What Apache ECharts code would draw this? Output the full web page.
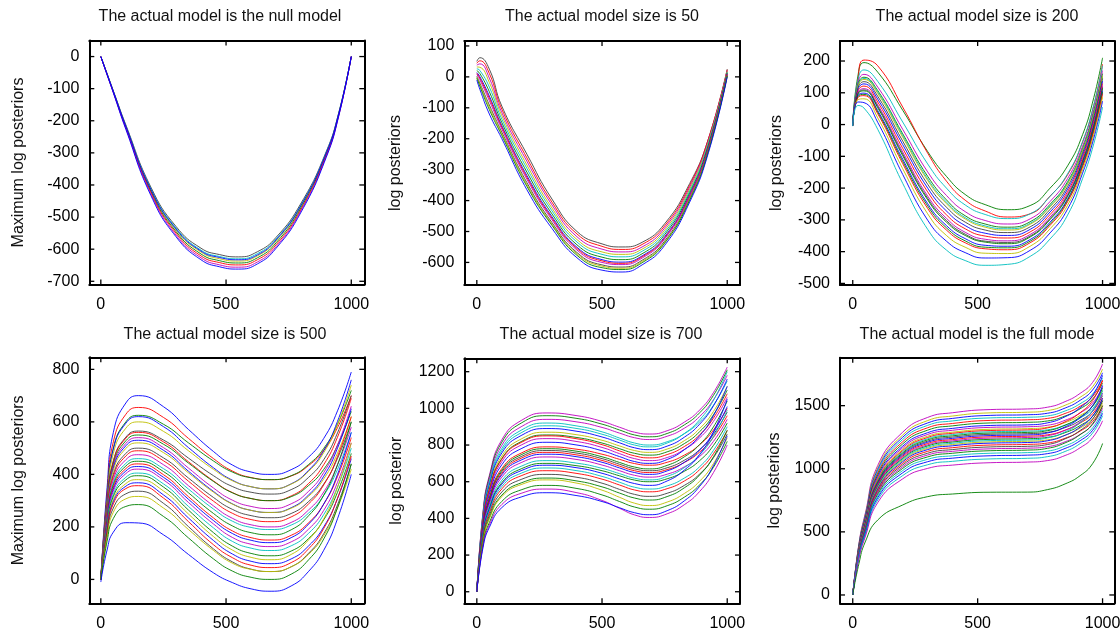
<!DOCTYPE html>
<html><head><meta charset="utf-8">
<script src="https://cdn.jsdelivr.net/npm/echarts@6/dist/echarts.min.js"></script>
<style>html,body{margin:0;padding:0;background:#fff}#c{width:1120px;height:635px}</style>
</head><body><div id="c"></div>
<script>
// ---------- DATA ----------
const xTicks = [0, 500, 1000];
const titles = ['The actual model is the null model', 'The actual model size is 50', 'The actual model size is 200',
  'The actual model size is 500', 'The actual model size is 700', 'The actual model is the full mode'];
const yNames = ['Maximum log posteriors', 'log posteriors', 'log posteriors',
  'Maximum log posteriors', 'log posterior', 'log posteriors'];

const yTicksNull = [0, -100, -200, -300, -400, -500, -600, -700];
const yTicks50 = [100, 0, -100, -200, -300, -400, -500, -600];
const yTicks200 = [200, 100, 0, -100, -200, -300, -400, -500];
const yTicks500 = [0, 200, 400, 600, 800];
const yTicks700 = [0, 200, 400, 600, 800, 1000, 1200];
const yTicksFull = [0, 500, 1000, 1500];

// x positions at which each panel's curves were read
const xsNull = [0, 25, 50, 100, 200, 300, 400, 475, 550, 625, 700, 800, 900, 950, 1000];
const xs50   = [0, 12, 50, 100, 200, 300, 400, 500, 580, 660, 750, 850, 925, 1000];
const xs200  = [0, 20, 45, 100, 200, 300, 375, 450, 530, 620, 710, 790, 860, 920, 965, 1000];
const xs500  = [0, 25, 50, 100, 150, 250, 350, 450, 525, 600, 680, 760, 830, 890, 945, 1000];
const xs700  = [0, 25, 50, 100, 180, 280, 400, 500, 570, 630, 690, 760, 830, 890, 945, 1000];
const xsFull = [0, 25, 50, 100, 200, 300, 400, 550, 700, 780, 850, 910, 960, 1000];

const nullModel = [
  [0,-53,-107,-213,-407,-529,-597,-617,-624,-608,-563,-456,-296,-175,0],
  [0,-54,-108,-216,-412,-534,-603,-623,-630,-614,-568,-461,-299,-176,0],
  [0,-54,-109,-218,-416,-540,-609,-630,-637,-621,-574,-465,-302,-178,0],
  [0,-55,-110,-220,-420,-545,-615,-636,-643,-627,-580,-470,-305,-180,0],
  [0,-56,-111,-222,-424,-550,-621,-642,-649,-633,-586,-475,-308,-182,0],
  [0,-56,-112,-224,-428,-556,-627,-649,-656,-640,-592,-479,-311,-184,0],
  [0,-57,-113,-227,-433,-561,-633,-655,-662,-646,-597,-484,-314,-185,0],
  [0,-54,-108,-217,-414,-537,-606,-626,-633,-618,-571,-463,-300,-177,0]
];
const nullColors = ['k','c','y','g','r','m','b','b'];

const size50 = [
  [50,62,25,-95,-250,-395,-500,-540,-550,-535,-475,-345,-200,25],
  [44,52,11,-105,-262,-405,-508,-548,-558,-542,-482,-351,-200,23],
  [38,42,-4,-116,-273,-414,-517,-557,-566,-550,-489,-357,-205,20],
  [32,31,-18,-126,-285,-424,-526,-566,-574,-557,-496,-363,-210,18],
  [26,21,-33,-137,-296,-433,-534,-574,-582,-564,-503,-369,-215,15],
  [20,11,-48,-148,-308,-443,-543,-583,-591,-572,-510,-375,-220,13],
  [14,1,-62,-158,-319,-452,-551,-591,-599,-579,-517,-381,-225,10],
  [11,-4,-69,-163,-325,-457,-555,-595,-603,-582,-521,-384,-228,9],
  [8,-9,-77,-169,-331,-462,-560,-600,-607,-586,-524,-387,-230,8],
  [2,-20,-91,-179,-342,-471,-568,-608,-615,-593,-531,-393,-235,5],
  [-1,-25,-98,-184,-348,-476,-572,-612,-619,-597,-535,-396,-238,4],
  [-4,-30,-106,-190,-354,-480,-577,-617,-623,-601,-538,-399,-240,3],
  [-10,-40,-120,-200,-365,-490,-585,-625,-631,-608,-545,-405,-245,0]
];
const size50Colors = ['k','r','m','y','c','g','b','r','m','k','y','g','b'];

const size200 = [
  [0,150,195,165,45,-85,-163,-220,-252,-268,-255,-200,-130,-32,85,210],
  [0,135,203,185,55,-90,-178,-238,-272,-291,-281,-225,-158,-55,60,190],
  [-1,136,172,136,8,-124,-200,-253,-283,-296,-281,-226,-155,-54,62,185],
  [-1,127,158,118,-15,-149,-223,-274,-302,-313,-297,-242,-170,-68,47,170],
  [-2,121,149,107,-29,-163,-237,-287,-313,-323,-306,-251,-180,-76,39,160],
  [-2,119,145,102,-35,-171,-244,-293,-319,-328,-311,-256,-184,-80,34,150],
  [-2,117,142,98,-40,-176,-249,-297,-323,-332,-314,-259,-187,-83,31,153],
  [-2,112,135,89,-52,-188,-260,-307,-332,-340,-322,-267,-195,-90,24,145],
  [-2,108,128,80,-63,-200,-272,-318,-342,-349,-330,-275,-203,-97,17,137],
  [-3,103,121,71,-75,-212,-284,-328,-351,-357,-338,-283,-211,-104,10,129],
  [-3,99,113,62,-86,-225,-295,-339,-361,-366,-346,-291,-218,-111,2,122],
  [-3,96,109,57,-93,-232,-302,-345,-367,-371,-351,-296,-223,-115,-2,117],
  [-3,94,106,53,-98,-237,-307,-349,-370,-375,-354,-299,-226,-118,-5,114],
  [-3,90,99,44,-109,-249,-318,-359,-380,-383,-362,-307,-234,-124,-12,106],
  [-3,87,95,39,-116,-256,-325,-366,-386,-388,-367,-312,-238,-129,-16,102],
  [-4,84,91,34,-123,-264,-332,-372,-391,-394,-372,-317,-243,-133,-21,97],
  [-4,78,81,21,-139,-281,-349,-386,-405,-406,-383,-328,-254,-142,-31,86],
  [-4,71,69,7,-157,-301,-367,-403,-420,-419,-396,-341,-266,-153,-43,74],
  [-5,60,52,-15,-185,-330,-395,-428,-443,-440,-415,-360,-285,-170,-60,55]
];
const size200Colors = ['g','r','c','m','g','c','y','k','b','r','m','k','g','b','g','r','y','b','c'];

const size500 = [
  [0,350,560,672,700,658,571,487,436,409,400,418,466,537,642,790],
  [0,328,524,629,655,617,537,460,413,388,380,394,434,492,578,700],
  [5,312,500,600,625,591,520,451,409,387,380,395,438,499,591,720],
  [0,310,496,595,620,582,502,425,378,353,345,364,416,490,602,760],
  [0,300,480,576,600,564,490,419,376,353,345,363,412,483,590,740],
  [0,282,452,542,565,531,462,395,354,332,325,342,389,456,558,700],
  [0,280,448,538,560,524,448,375,331,308,300,318,366,437,542,690],
  [0,275,440,528,550,515,443,373,330,308,300,315,358,419,511,640],
  [0,270,432,518,540,502,424,348,302,278,270,288,336,407,512,660],
  [0,265,424,509,530,492,412,335,288,263,255,273,322,393,500,650],
  [0,260,416,499,520,483,406,332,287,263,255,271,317,383,481,620],
  [0,250,400,480,500,463,386,312,267,243,235,251,297,363,461,600],
  [0,245,392,470,490,452,374,298,252,228,220,238,288,360,468,620],
  [0,238,380,456,475,437,357,280,233,208,200,217,265,333,436,580],
  [0,230,368,442,460,422,344,268,222,198,190,207,253,320,419,560],
  [0,225,360,432,450,411,330,251,204,178,170,189,243,321,437,600],
  [0,220,352,422,440,399,315,234,185,159,150,168,216,287,392,540],
  [0,215,344,413,430,389,305,224,175,149,140,159,211,287,400,560],
  [0,210,336,403,420,379,293,211,160,134,125,143,192,263,370,520],
  [0,202,324,389,405,364,278,196,145,119,110,128,176,247,352,500],
  [0,198,316,379,395,352,264,178,127,99,90,108,156,227,332,480],
  [0,190,304,365,380,337,249,163,112,84,75,95,151,231,351,520],
  [0,185,296,355,368,322,234,148,97,69,60,78,128,200,308,460],
  [0,180,288,346,357,310,220,132,83,54,45,64,117,194,309,470],
  [0,170,272,326,336,290,201,116,67,39,30,48,100,174,284,440],
  [0,160,256,307,316,272,190,110,62,38,30,48,96,167,272,420],
  [0,145,232,278,285,240,158,78,32,8,0,20,75,154,273,440],
  [-10,112,180,216,215,170,95,25,-12,-36,-45,-25,31,111,231,400]
];
const size500Colors = ['b','r','g','b','y','k','r','g','m','b','y','k','r','m','c','g','r','b','m','c','g','y','b','r','k','y','g','b'];

const size700 = [
  [0,439,634,829,936,975,960,929,897,870,860,878,926,991,1086,1225],
  [0,432,624,816,922,960,945,914,882,855,845,863,911,976,1071,1210],
  [0,423,611,799,902,940,926,896,865,840,830,848,893,956,1047,1180],
  [0,414,598,782,883,920,904,872,838,811,800,818,863,926,1017,1150],
  [0,407,588,769,869,905,890,859,827,800,790,811,864,938,1044,1200],
  [0,400,579,757,854,890,875,844,812,785,775,794,844,914,1014,1160],
  [0,392,566,740,835,870,856,826,795,770,760,778,825,890,983,1120],
  [0,385,556,727,821,855,841,811,780,755,745,763,809,873,965,1100],
  [0,383,553,723,816,850,834,802,768,741,730,748,793,856,947,1080],
  [0,376,543,710,802,835,819,787,753,726,715,732,777,839,929,1060],
  [0,367,530,693,782,815,800,769,737,710,700,721,776,851,960,1120],
  [0,356,514,672,758,790,777,750,722,699,690,706,746,802,882,1000],
  [0,351,507,663,749,780,766,736,705,680,670,689,737,803,899,1040],
  [0,347,501,655,739,770,756,726,695,670,660,676,718,775,858,980],
  [0,342,494,646,730,760,746,716,685,660,650,666,706,762,842,960],
  [0,338,488,638,720,750,736,706,675,650,640,659,707,773,869,1010],
  [0,331,478,625,706,735,721,691,660,635,625,641,682,738,820,940],
  [0,322,465,608,686,715,701,673,644,619,610,629,678,747,846,990],
  [0,315,455,595,672,700,687,660,632,609,600,616,658,715,798,920],
  [0,311,449,587,662,690,676,646,615,590,580,604,665,749,871,1050],
  [0,304,439,574,648,675,660,629,597,570,560,577,621,682,771,900],
  [0,297,429,561,634,660,645,614,582,555,545,562,605,666,753,880],
  [0,288,416,544,614,640,624,592,558,531,520,537,581,642,731,860],
  [0,279,403,527,595,620,604,572,538,511,500,519,568,637,736,880],
  [0,275,397,519,586,610,592,554,515,483,470,489,537,603,699,840],
  [0,261,377,493,557,580,563,528,492,462,450,469,517,583,679,820],
  [0,252,364,476,538,560,540,498,455,419,405,425,476,547,650,800],
  [0,243,351,459,518,540,524,492,458,431,420,442,497,575,687,850]
];
const size700Colors = ['m','g','m','c','c','b','y','g','r','m','b','r','g','k','r','b','m','c','g','b','c','r','k','g','y','g','m','b'];

const fullModel = [
  [0,410,645,1026,1290,1407,1444,1469,1474,1488,1532,1597,1684,1830],
  [0,403,634,1008,1267,1382,1418,1443,1448,1461,1503,1566,1650,1790],
  [0,398,625,994,1250,1363,1399,1423,1428,1440,1481,1542,1624,1760],
  [0,392,616,980,1232,1344,1379,1403,1408,1419,1458,1515,1592,1720],
  [0,386,607,966,1214,1325,1359,1383,1388,1399,1438,1495,1572,1700],
  [0,381,598,952,1197,1306,1340,1363,1368,1379,1418,1475,1552,1680],
  [0,375,590,938,1179,1286,1320,1343,1348,1364,1412,1484,1580,1740],
  [0,371,583,928,1166,1272,1305,1328,1333,1345,1384,1442,1520,1650],
  [0,367,576,917,1153,1258,1290,1313,1318,1329,1366,1422,1496,1620],
  [0,364,572,910,1144,1248,1281,1303,1308,1324,1372,1444,1540,1700],
  [0,361,568,903,1135,1238,1271,1293,1298,1309,1346,1402,1476,1600],
  [0,358,563,896,1126,1229,1261,1283,1288,1302,1345,1410,1496,1640],
  [0,356,559,889,1118,1219,1251,1273,1278,1289,1326,1382,1456,1580],
  [0,353,554,882,1109,1210,1241,1263,1268,1284,1332,1404,1500,1660],
  [0,350,550,875,1100,1200,1231,1253,1258,1269,1306,1362,1436,1560],
  [0,347,546,868,1091,1190,1221,1243,1248,1262,1305,1370,1456,1600],
  [0,344,541,861,1082,1181,1212,1233,1238,1249,1286,1342,1416,1540],
  [0,342,537,854,1074,1171,1202,1223,1228,1244,1292,1364,1460,1620],
  [0,339,532,847,1065,1162,1192,1213,1218,1229,1266,1322,1396,1520],
  [0,336,528,840,1056,1152,1182,1203,1208,1222,1265,1330,1416,1560],
  [0,332,521,830,1043,1138,1167,1188,1193,1204,1242,1298,1374,1500],
  [0,328,515,819,1030,1123,1152,1173,1178,1192,1237,1303,1392,1540],
  [0,323,508,809,1016,1109,1138,1158,1163,1175,1214,1272,1350,1480],
  [0,319,502,798,1003,1094,1123,1143,1148,1162,1205,1270,1356,1500],
  [0,314,493,784,986,1075,1103,1123,1128,1140,1181,1242,1324,1460],
  [0,308,484,770,968,1056,1084,1103,1108,1120,1161,1222,1304,1440],
  [0,301,473,753,946,1032,1059,1078,1083,1096,1137,1199,1282,1420],
  [0,293,460,732,920,1003,1029,1048,1053,1065,1105,1166,1246,1380],
  [0,250,420,594,713,779,800,814,815,835,880,945,1040,1200]
];
const fullColors = ['m','y','b','c','r','g','b','m','y','r','c','g','k','b','r','m','g','c','y','b','r','k','m','g','c','b','c','m','g'];

// ---------- STYLE / LAYOUT ----------
const palette = {b:'#0000ff', g:'#008000', r:'#ff0000', c:'#00bfbf', m:'#bf00bf', y:'#bfbf00', k:'#404040'};
const FONT = '"Liberation Sans", Arial, Helvetica, sans-serif';
const TICK_LEN = 5;

const panels = [
  {xs:xsNull, curves:nullModel, colors:nullColors, yTicks:yTicksNull, left:89.3, top:40.5, width:275, height:244, xMin:-46, xMax:1052, yMin:-710, yMax:50, nameGap:63, titleX:220, titleY:9},
  {xs:xs50, curves:size50, colors:size50Colors, yTicks:yTicks50, left:464.3, top:41, width:275.7, height:244, xMin:-50, xMax:1051, yMin:-673, yMax:116, nameGap:61, titleX:602, titleY:9},
  {xs:xs200, curves:size200, colors:size200Colors, yTicks:yTicks200, left:840, top:41, width:274.3, height:244, xMin:-51, xMax:1047, yMin:-505, yMax:263, nameGap:55, titleX:977, titleY:9},
  {xs:xs500, curves:size500, colors:size500Colors, yTicks:yTicks500, left:89.3, top:357.3, width:275, height:246, xMin:-46, xMax:1052, yMin:-91, yMax:846, nameGap:63, titleX:225, titleY:327},
  {xs:xs700, curves:size700, colors:size700Colors, yTicks:yTicks700, left:464.3, top:358.3, width:275.7, height:245, xMin:-50, xMax:1051, yMin:-63, yMax:1273, nameGap:60, titleX:601, titleY:327},
  {xs:xsFull, curves:fullModel, colors:fullColors, yTicks:yTicksFull, left:840, top:357.7, width:274.3, height:245.6, xMin:-51, xMax:1047, yMin:-66, yMax:1880, nameGap:57, titleX:977, titleY:327}
];

const grid = [], xAxis = [], yAxis = [], series = [], title = [];
panels.forEach((p, i) => {
  grid.push({left:p.left, top:p.top, width:p.width, height:p.height, show:false, containLabel:false, outerBoundsMode:'none'});
  title.push({text:titles[i], left:p.titleX, top:p.titleY, textAlign:'center', padding:0,
    textStyle:{fontSize:16, fontWeight:'normal', color:'#111', fontFamily:FONT}});
  const line = {show:true, onZero:false, lineStyle:{color:'#000', width:2}};
  xAxis.push({type:'value', gridIndex:i, position:'bottom', min:p.xMin, max:p.xMax, z:5,
    axisLine:line, splitLine:{show:false}, axisTick:{show:false},
    axisLabel:{customValues:xTicks, fontSize:16, color:'#000', margin:12, fontFamily:FONT, formatter:v=>String(v)}});
  xAxis.push({type:'value', gridIndex:i, position:'top', min:p.xMin, max:p.xMax, z:5,
    axisLine:line, splitLine:{show:false}, axisTick:{show:false}, axisLabel:{show:false}});
  yAxis.push({type:'value', gridIndex:i, position:'left', min:p.yMin, max:p.yMax, z:5,
    name:yNames[i], nameLocation:'middle', nameGap:p.nameGap,
    nameTextStyle:{fontSize:16, color:'#111', fontFamily:FONT},
    axisLine:line, splitLine:{show:false}, axisTick:{show:false},
    axisLabel:{customValues:p.yTicks, fontSize:16, color:'#000', margin:10, fontFamily:FONT, formatter:v=>String(v)}});
  yAxis.push({type:'value', gridIndex:i, position:'right', min:p.yMin, max:p.yMax, z:5,
    axisLine:line, splitLine:{show:false}, axisTick:{show:false}, axisLabel:{show:false}});
  p.curves.forEach((c, j) => {
    series.push({type:'line', xAxisIndex:2*i, yAxisIndex:2*i, silent:true, showSymbol:false, symbol:'none',
      smooth:true, clip:true, z:2,
      lineStyle:{width:1, color:palette[p.colors[j]], opacity:0.9},
      data: p.xs.map((x, k) => [x, c[k]])});
  });
});

const chart = echarts.init(document.getElementById('c'), null, {renderer:'canvas'});
chart.setOption({animation:false, backgroundColor:'#fff', title, grid, xAxis, yAxis, series, tooltip:{show:false}});

// inward tick marks on all four sides, positioned through each panel's own axes
const tickEls = [];
panels.forEach((p, i) => {
  const finder = {xAxisIndex: 2*i, yAxisIndex: 2*i};
  const top = chart.convertToPixel(finder, [0, p.yMax])[1];
  const bottom = chart.convertToPixel(finder, [0, p.yMin])[1];
  const left = chart.convertToPixel(finder, [p.xMin, 0])[0];
  const right = chart.convertToPixel(finder, [p.xMax, 0])[0];
  const st = {stroke:'#000', lineWidth:1.3};
  xTicks.forEach(v => {
    const x = chart.convertToPixel(finder, [v, 0])[0];
    tickEls.push({type:'line', z:10, silent:true, shape:{x1:x, y1:bottom, x2:x, y2:bottom - TICK_LEN}, style:st});
    tickEls.push({type:'line', z:10, silent:true, shape:{x1:x, y1:top, x2:x, y2:top + TICK_LEN}, style:st});
  });
  p.yTicks.forEach(v => {
    const y = chart.convertToPixel(finder, [0, v])[1];
    tickEls.push({type:'line', z:10, silent:true, shape:{x1:left, y1:y, x2:left + TICK_LEN, y2:y}, style:st});
    tickEls.push({type:'line', z:10, silent:true, shape:{x1:right, y1:y, x2:right - TICK_LEN, y2:y}, style:st});
  });
});
chart.setOption({graphic: tickEls});
</script></body></html>
